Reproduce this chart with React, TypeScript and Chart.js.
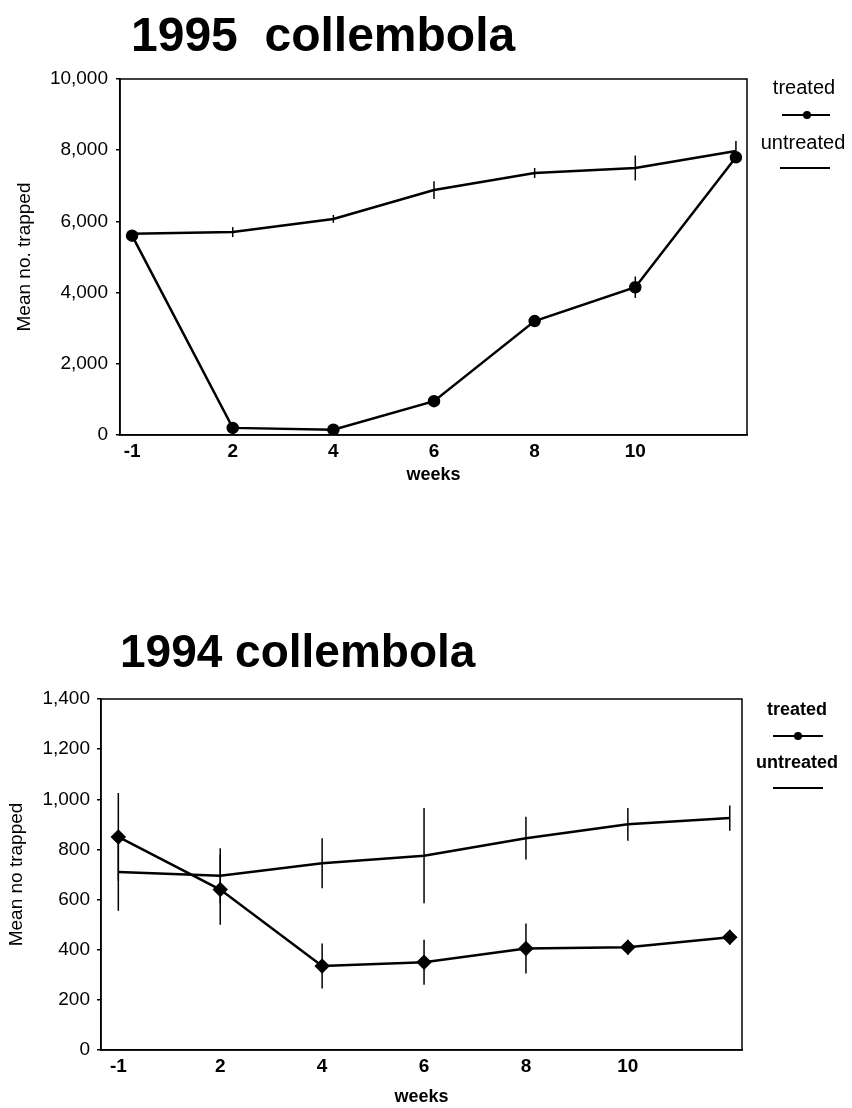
import React, { useEffect, useRef } from 'react';
import { Chart, registerables } from 'chart.js';

Chart.register(...registerables);

// ---- data ----
const weekLabels = ['-1', '2', '4', '6', '8', '10', ''];

const treated1995 = [5600, 200, 150, 950, 3200, 4150, 7800];
const untreated1995 = [5650, 5700, 6070, 6880, 7360, 7500, 7980];
const treated1995Err = [60, 60, 60, 60, 60, 300, 150];
const untreated1995Err = [80, 140, 110, 250, 140, 350, 280];

const treated1994 = [850, 640, 335, 350, 405, 410, 450];
const untreated1994 = [710, 695, 745, 775, 845, 900, 925];
const treated1994Err = [175, 140, 90, 90, 100, 30, 30];
const untreated1994Err = [155, 110, 100, 190, 85, 65, 50];

const FONT = "'Liberation Sans', Arial, sans-serif";

const fmt = (v: number) => String(v).replace(/\B(?=(\d{3})+(?!\d))/g, ',');

const toPoints = (arr: number[]) => arr.map((v, i) => ({ x: i, y: v }));

const decorPlugin = {
  id: 'decor',
  beforeDatasetsDraw(chart: any) {
    const { ctx, scales } = chart;
    const x = scales.x;
    const y = scales.y;
    ctx.save();
    ctx.strokeStyle = '#000';
    ctx.lineWidth = 1.5;
    chart.data.datasets.forEach((ds: any) => {
      const errs: number[] | undefined = ds.errors;
      if (!errs) return;
      ds.data.forEach((p: any, i: number) => {
        const e = errs[i];
        if (!e) return;
        const px = x.getPixelForValue(p.x);
        ctx.beginPath();
        ctx.moveTo(px, y.getPixelForValue(p.y - e));
        ctx.lineTo(px, y.getPixelForValue(p.y + e));
        ctx.stroke();
      });
    });
    ctx.restore();
  },
  afterDraw(chart: any, _args: any, opts: any) {
    const { ctx, chartArea: a } = chart;
    ctx.save();
    ctx.strokeStyle = '#000';
    ctx.lineWidth = 1.5;
    ctx.strokeRect(a.left, a.top, a.right - a.left, a.bottom - a.top);
    // title
    ctx.fillStyle = '#000';
    ctx.font = opts.titleFont;
    ctx.textAlign = 'left';
    ctx.textBaseline = 'alphabetic';
    ctx.fillText(opts.title, opts.titleX, opts.titleY);
    // legend
    ctx.font = opts.legendFont;
    ctx.textAlign = 'center';
    ctx.textBaseline = 'middle';
    (opts.legend || []).forEach((it: any) => {
      ctx.fillStyle = '#000';
      ctx.fillText(it.text, it.cx, it.ty);
      ctx.lineWidth = 2;
      ctx.beginPath();
      ctx.moveTo(it.x0, it.ly);
      ctx.lineTo(it.x1, it.ly);
      ctx.stroke();
      if (it.marker === 'circle') {
        ctx.beginPath();
        ctx.arc(it.mx, it.ly, 4, 0, Math.PI * 2);
        ctx.fill();
      }
    });
    ctx.restore();
  },
};

type Cfg = {
  top: number;
  height: number;
  padTop: number;
  padRight: number;
  yWidth: number;
  xHeight: number;
  xMin: number;
  xMax: number;
  yMax: number;
  yStep: number;
  yTitle: string;
  yTitlePad: number;
  xTitlePad: number;
  yTickPad: number;
  treated: number[];
  untreated: number[];
  treatedErr: number[];
  untreatedErr: number[];
  markerStyle: string;
  markerRadius: number;
  decor: any;
};

function ChartBlock({ cfg }: { cfg: Cfg }) {
  const ref = useRef<HTMLCanvasElement | null>(null);
  useEffect(() => {
    if (!ref.current) return;
    const tickFont = { family: FONT, size: 19 };
    const chart = new Chart(ref.current, {
      type: 'line',
      data: {
        datasets: [
          {
            label: 'untreated',
            data: toPoints(cfg.untreated),
            errors: cfg.untreatedErr,
            borderColor: '#000',
            borderWidth: 2.5,
            pointRadius: 0,
            tension: 0,
          } as any,
          {
            label: 'treated',
            data: toPoints(cfg.treated),
            errors: cfg.treatedErr,
            borderColor: '#000',
            backgroundColor: '#000',
            borderWidth: 2.5,
            pointStyle: cfg.markerStyle,
            pointRadius: cfg.markerRadius,
            pointBackgroundColor: '#000',
            pointBorderColor: '#000',
            tension: 0,
          } as any,
        ],
      },
      options: {
        animation: false,
        responsive: false,
        devicePixelRatio: 1,
        events: [],
        layout: { padding: { top: cfg.padTop, right: cfg.padRight, left: 0, bottom: 0 } },
        plugins: {
          legend: { display: false },
          tooltip: { enabled: false },
          decor: cfg.decor,
        } as any,
        scales: {
          x: {
            type: 'linear',
            min: cfg.xMin,
            max: cfg.xMax,
            afterBuildTicks: (s: any) => {
              s.ticks = weekLabels.map((_, i) => ({ value: i }));
            },
            afterFit: (s: any) => {
              s.height = cfg.xHeight;
            },
            ticks: {
              callback: (v: any) => weekLabels[Math.round(v)] ?? '',
              font: { ...tickFont, weight: 'bold' },
              color: '#000',
              padding: 5,
              autoSkip: false,
              maxRotation: 0,
            },
            grid: { display: false, drawTicks: false },
            border: { display: true, color: '#000', width: 1.5 },
            title: {
              display: true,
              text: 'weeks',
              font: { family: FONT, size: 18, weight: 'bold' },
              color: '#000',
              padding: { top: 0, bottom: cfg.xTitlePad },
            },
          },
          y: {
            min: 0,
            max: cfg.yMax,
            afterFit: (s: any) => {
              s.width = cfg.yWidth;
            },
            ticks: {
              stepSize: cfg.yStep,
              callback: (v: any) => fmt(v),
              font: tickFont,
              color: '#000',
              padding: cfg.yTickPad,
            },
            grid: {
              drawOnChartArea: false,
              drawTicks: true,
              tickLength: 4,
              color: '#000',
              lineWidth: 1.5,
            },
            border: { display: true, color: '#000', width: 1.5 },
            title: {
              display: true,
              text: cfg.yTitle,
              font: { family: FONT, size: 19 },
              color: '#000',
              padding: { top: cfg.yTitlePad, bottom: 0 },
            },
          },
        },
      } as any,
      plugins: [decorPlugin as any],
    });
    return () => chart.destroy();
  }, [cfg]);
  return (
    <canvas
      ref={ref}
      width={852}
      height={cfg.height}
      style={{ position: 'absolute', left: 0, top: cfg.top, width: 852, height: cfg.height }}
    />
  );
}

const cfg1995: Cfg = {
  top: 0,
  height: 500,
  padTop: 79,
  padRight: 105,
  yWidth: 120,
  xHeight: 65,
  xMin: -0.12,
  xMax: 6.11,
  yMax: 10000,
  yStep: 2000,
  yTitle: 'Mean no. trapped',
  yTitlePad: 13,
  xTitlePad: 14,
  yTickPad: 8,
  treated: treated1995,
  untreated: untreated1995,
  treatedErr: treated1995Err,
  untreatedErr: untreated1995Err,
  markerStyle: 'circle',
  markerRadius: 5,
  decor: {
    title: '1995  collembola',
    titleFont: `bold 48px ${FONT}`,
    titleX: 131,
    titleY: 51,
    legendFont: `20px ${FONT}`,
    legend: [
      { text: 'treated', cx: 804, ty: 88, ly: 115, x0: 782, x1: 830, mx: 807, marker: 'circle' },
      { text: 'untreated', cx: 803, ty: 143, ly: 168, x0: 780, x1: 830, mx: 0, marker: null },
    ],
  },
};

const cfg1994: Cfg = {
  top: 600,
  height: 508,
  padTop: 99,
  padRight: 110,
  yWidth: 101,
  xHeight: 58,
  xMin: -0.17,
  xMax: 6.12,
  yMax: 1400,
  yStep: 200,
  yTitle: 'Mean no trapped',
  yTitlePad: 5,
  xTitlePad: 0,
  yTickPad: 7,
  treated: treated1994,
  untreated: untreated1994,
  treatedErr: treated1994Err,
  untreatedErr: untreated1994Err,
  markerStyle: 'rectRot',
  markerRadius: 6,
  decor: {
    title: '1994 collembola',
    titleFont: `bold 46px ${FONT}`,
    titleX: 120,
    titleY: 67,
    legendFont: `bold 18px ${FONT}`,
    legend: [
      { text: 'treated', cx: 797, ty: 110, ly: 136, x0: 773, x1: 823, mx: 798, marker: 'circle' },
      { text: 'untreated', cx: 797, ty: 163, ly: 188, x0: 773, x1: 823, mx: 0, marker: null },
    ],
  },
};

export default function App() {
  return (
    <div
      style={{
        position: 'absolute',
        left: 0,
        top: 0,
        width: 852,
        height: 1108,
        background: '#fff',
        overflow: 'hidden',
      }}
    >
      <ChartBlock cfg={cfg1995} />
      <ChartBlock cfg={cfg1994} />
    </div>
  );
}
